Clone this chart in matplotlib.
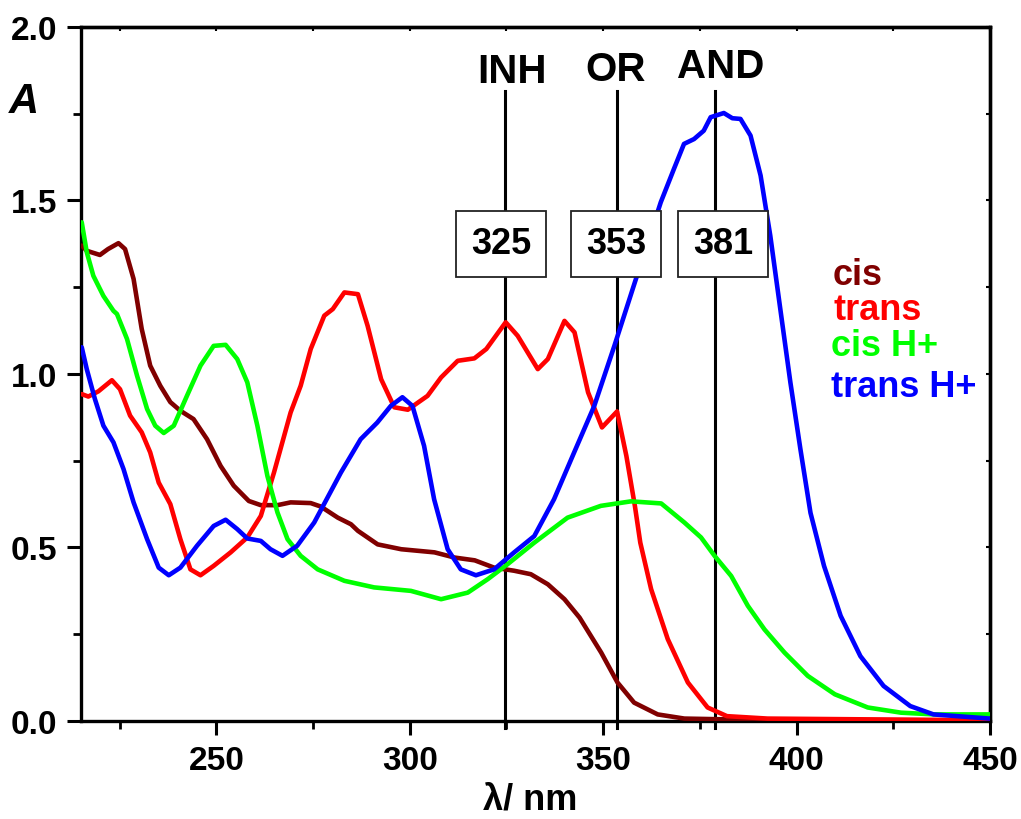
import matplotlib
matplotlib.use("Agg")
from matplotlib import pyplot as plt
from matplotlib.ticker import MultipleLocator

# Absorption spectra (wavelength in nm, absorbance A)
cis_wl = [215.2, 216.5, 219.9, 222.0, 224.7, 226.4, 228.6, 230.7, 232.9, 235.5,
          238.1, 240.7, 244.1, 247.6, 251.1, 254.5, 258.4, 261.5, 265.8, 269.2,
          274.4, 277.0, 281.4, 284.8, 286.6, 291.7, 297.8, 306.4, 311.6, 316.8,
          321.8, 327.0, 331.3, 335.7, 340.0, 343.9, 349.5, 353.7, 358.0, 364.1,
          371.0, 390.0, 450.0]
cis_A = [1.370, 1.355, 1.343, 1.360, 1.377, 1.360, 1.274, 1.130, 1.024, 0.966,
         0.919, 0.894, 0.870, 0.812, 0.735, 0.678, 0.634, 0.622, 0.622, 0.630,
         0.628, 0.618, 0.586, 0.567, 0.548, 0.509, 0.495, 0.486, 0.471, 0.463,
         0.442, 0.433, 0.423, 0.394, 0.351, 0.298, 0.197, 0.111, 0.053, 0.019,
         0.007, 0.003, 0.002]

trans_wl = [215.2, 216.9, 219.5, 223.0, 225.1, 227.7, 230.7, 232.9, 235.1, 238.1,
            240.7, 243.3, 245.9, 249.3, 253.7, 258.0, 261.5, 264.9, 269.2, 271.8,
            274.4, 277.9, 280.1, 283.1, 286.6, 289.1, 292.6, 296.0, 299.5, 304.6,
            308.1, 312.4, 316.7, 319.8, 324.8, 327.9, 333.1, 335.7, 340.0, 342.6,
            346.1, 349.7, 353.6, 356.0, 358.2, 359.6, 362.4, 366.7, 371.9, 377.0,
            382.0, 392.5, 450.0]
trans_A = [0.942, 0.935, 0.950, 0.982, 0.956, 0.880, 0.832, 0.774, 0.687, 0.625,
           0.524, 0.437, 0.420, 0.447, 0.486, 0.529, 0.591, 0.716, 0.889, 0.966,
           1.072, 1.168, 1.187, 1.235, 1.230, 1.139, 0.985, 0.904, 0.897, 0.937,
           0.990, 1.038, 1.045, 1.072, 1.149, 1.110, 1.014, 1.043, 1.153, 1.120,
           0.947, 0.846, 0.892, 0.764, 0.620, 0.514, 0.380, 0.236, 0.111, 0.039,
           0.014, 0.007, 0.002]

cisH_wl = [215.2, 216.5, 218.2, 220.8, 223.4, 224.3, 226.9, 229.5, 232.1, 234.2,
           236.4, 239.0, 242.4, 245.9, 249.3, 252.4, 255.4, 258.0, 260.6, 263.2,
           265.8, 268.4, 271.8, 276.2, 283.1, 290.8, 300.3, 308.1, 315.0, 320.2,
           325.3, 332.2, 340.8, 349.4, 357.2, 365.0, 371.0, 375.3, 378.8, 383.1,
           387.4, 391.7, 396.9, 402.9, 409.9, 418.4, 427.0, 435.6, 450.0]
cisH_A = [1.437, 1.351, 1.283, 1.225, 1.182, 1.173, 1.101, 0.995, 0.899, 0.851,
          0.830, 0.851, 0.937, 1.024, 1.081, 1.084, 1.043, 0.976, 0.851, 0.706,
          0.601, 0.524, 0.476, 0.437, 0.404, 0.385, 0.375, 0.351, 0.370, 0.409,
          0.452, 0.514, 0.586, 0.620, 0.633, 0.627, 0.572, 0.529, 0.476, 0.418,
          0.332, 0.264, 0.197, 0.130, 0.077, 0.039, 0.024, 0.019, 0.019]

transH_wl = [215.2, 216.5, 218.6, 220.8, 223.4, 226.0, 228.6, 232.1, 235.1, 237.7,
             240.7, 245.0, 249.3, 252.4, 255.4, 258.0, 261.5, 264.0, 267.1, 270.9,
             275.3, 282.2, 287.3, 291.6, 295.1, 298.1, 300.7, 303.7, 306.3, 309.8,
             313.2, 317.1, 321.8, 327.0, 332.2, 337.3, 342.5, 347.7, 352.9, 357.9,
             364.9, 368.3, 370.9, 373.5, 376.0, 377.8, 381.2, 383.4, 385.5, 388.1,
             390.7, 393.2, 395.8, 398.4, 401.0, 403.6, 407.1, 411.4, 416.5, 422.5,
             429.4, 435.4, 450.0]
transH_A = [1.077, 1.014, 0.928, 0.851, 0.803, 0.726, 0.630, 0.524, 0.442, 0.420,
            0.442, 0.505, 0.562, 0.580, 0.553, 0.526, 0.519, 0.495, 0.476, 0.505,
            0.572, 0.716, 0.812, 0.860, 0.908, 0.933, 0.908, 0.793, 0.639, 0.495,
            0.437, 0.420, 0.437, 0.486, 0.533, 0.639, 0.774, 0.908, 1.081, 1.254,
            1.495, 1.591, 1.663, 1.677, 1.701, 1.740, 1.752, 1.737, 1.735, 1.687,
            1.572, 1.399, 1.187, 0.976, 0.783, 0.600, 0.447, 0.303, 0.187, 0.101,
            0.043, 0.019, 0.007]

series_names = ["cis", "trans", "cis H+", "trans H+"]
series_colors = ["#800000", "#ff0000", "#00ff00", "#0000ff"]

# logic gate markers
gate_names = ["INH", "OR", "AND"]
gate_labels = ["325", "353", "381"]
gate_wl = [324.7, 353.6, 379.0]
name_x = [326.5, 353.2, 380.3]
name_y = [1.842, 1.848, 1.855]
box_x = [323.6, 353.3, 381.0]

plt.rcParams["font.family"] = ["Liberation Sans", "DejaVu Sans"]
plt.rcParams["font.weight"] = "bold"

fig = plt.figure(figsize=(10.21, 8.2), dpi=100)
ax = fig.add_axes([0.0793, 0.1195, 0.8903, 0.8464])

curves = [(cis_wl, cis_A), (trans_wl, trans_A), (cisH_wl, cisH_A), (transH_wl, transH_A)]
for (wl, a), c in zip(curves, series_colors):
    ax.plot(wl, a, color=c, lw=3.3, solid_joinstyle="round", solid_capstyle="round", zorder=3)

ax.set_xlim(215, 450)
ax.set_ylim(0, 2.0)

# vertical gate lines, labels and boxed wavelengths
for i in range(len(gate_names)):
    x = gate_wl[i]
    ax.plot([x, x], [-0.02, 1.815], color="black", lw=2.2, zorder=2, clip_on=False)
    ax.text(name_x[i], name_y[i], gate_names[i], fontsize=29, fontweight="bold",
            ha="center", va="baseline")
    ax.text(box_x[i], 1.375, gate_labels[i], fontsize=26, fontweight="bold", ha="center",
            va="center", zorder=4,
            bbox=dict(boxstyle="square,pad=0.42", fc="white", ec="#222222", lw=1.3))

# axes styling
for s in ax.spines.values():
    s.set_linewidth(2.4)
ax.xaxis.set_major_locator(MultipleLocator(50))
ax.xaxis.set_minor_locator(MultipleLocator(25))
ax.yaxis.set_major_locator(MultipleLocator(0.5))
ax.yaxis.set_minor_locator(MultipleLocator(0.25))
ax.tick_params(which="major", direction="out", length=10, width=2.2, labelsize=24, pad=7)
ax.tick_params(which="minor", direction="out", length=5.5, width=2.0)
ax.xaxis.set_major_formatter(plt.FuncFormatter(lambda v, p: "" if v < 250 else "%d" % v))
ax.yaxis.set_major_formatter(plt.FuncFormatter(lambda v, p: "%.1f" % v))

top = ax.secondary_xaxis("top")
top.xaxis.set_major_locator(MultipleLocator(25))
top.tick_params(direction="in", length=3, width=1.5, labeltop=False)
right = ax.secondary_yaxis("right")
right.yaxis.set_major_locator(MultipleLocator(0.25))
right.tick_params(direction="in", length=3, width=1.5, labelright=False)
for sec in (top, right):
    for s in sec.spines.values():
        s.set_linewidth(2.4)

# legend as coloured text
legend_y = [285, 320, 356, 397]
legend_x = [833, 833, 831, 831]
for name, c, xp, yp in zip(series_names, series_colors, legend_x, legend_y):
    fig.text(xp / 1021, 1 - yp / 820, name, color=c, fontsize=26, fontweight="bold",
             ha="left", va="baseline")

fig.text(24 / 1021, 1 - 102 / 820, "A", fontsize=30, fontweight="bold", style="italic",
         ha="center", va="center")
fig.text(530 / 1021, 1 - 818 / 820, "λ/ nm", fontsize=26, fontweight="bold",
         ha="center", va="bottom")

fig.savefig("out.png", dpi=100)
